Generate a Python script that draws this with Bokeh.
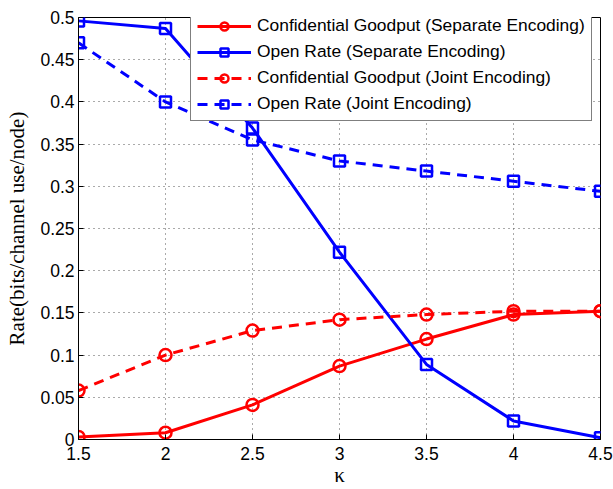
from bokeh.plotting import figure
from bokeh.models import Range1d, Legend, LegendItem, FixedTicker
from bokeh.embed import file_html
from bokeh.resources import INLINE

kappa = [1.5, 2.0, 2.5, 3.0, 3.5, 4.0, 4.5]
conf_sep = [0.003, 0.008, 0.041, 0.087, 0.119, 0.148, 0.152]
open_sep = [0.496, 0.487, 0.369, 0.222, 0.089, 0.022, 0.002]
conf_joint = [0.058, 0.100, 0.129, 0.142, 0.148, 0.152, 0.152]
open_joint = [0.470, 0.400, 0.355, 0.330, 0.318, 0.306, 0.294]

labels = ["Confidential Goodput (Separate Encoding)",
          "Open Rate (Separate Encoding)",
          "Confidential Goodput (Joint Encoding)",
          "Open Rate (Joint Encoding)"]

xticks = [1.5, 2, 2.5, 3, 3.5, 4, 4.5]
yticks = [0, 0.05, 0.1, 0.15, 0.2, 0.25, 0.3, 0.35, 0.4, 0.45, 0.5]
xtick_labels = ["1.5", "2", "2.5", "3", "3.5", "4", "4.5"]
ytick_labels = ["0", "0.05", "0.1", "0.15", "0.2", "0.25", "0.3", "0.35", "0.4", "0.45", "0.5"]

p = figure(width=613, height=489, output_backend="svg", toolbar_location=None,
           x_range=Range1d(1.5, 4.5), y_range=Range1d(0, 0.5),
           min_border_left=78, min_border_right=13, min_border_top=17, min_border_bottom=48)
p.background_fill_color = "white"
p.border_fill_color = "white"
p.outline_line_color = "black"
p.outline_line_width = 1

FONT = "Liberation Sans"
for ax in [p.xaxis[0], p.yaxis[0]]:
    ax.major_tick_in = 5
    ax.major_tick_out = 0
    ax.minor_tick_line_color = None
    ax.major_label_text_font = FONT
    ax.major_label_text_font_size = "17.5px"
    ax.major_label_text_color = "black"
    ax.axis_line_color = "black"
    ax.major_tick_line_color = "black"
    ax.axis_label_text_font = "Liberation Serif"
    ax.axis_label_text_font_style = "normal"
    ax.axis_label_text_font_size = "21px"
    ax.axis_label_text_color = "black"

p.xaxis.ticker = FixedTicker(ticks=xticks)
p.yaxis.ticker = FixedTicker(ticks=yticks)
p.xaxis.major_label_overrides = dict(zip(xticks, xtick_labels))
p.yaxis.major_label_overrides = dict(zip(yticks, ytick_labels))
p.xaxis.axis_label = "κ"
p.yaxis.axis_label = "Rate(bits/channel use/node)"
p.xaxis.major_label_standoff = 7
p.xaxis.axis_label_standoff = 0
p.yaxis.major_label_standoff = 4
p.yaxis.axis_label_standoff = 8

p.grid.grid_line_color = "#555555"
p.grid.grid_line_dash = "1 4"
p.grid.grid_line_width = 1
p.xgrid.ticker = FixedTicker(ticks=xticks)
p.ygrid.ticker = FixedTicker(ticks=yticks)

RED = "#ff0000"
BLUE = "#0000ff"
LW = 3
DASH = "10 7"

r1l = p.line(kappa, conf_sep, line_color=RED, line_width=LW)
r1m = p.scatter(kappa, conf_sep, marker="circle", size=12, line_color=RED, line_width=2.5, fill_color=None)
r2l = p.line(kappa, open_sep, line_color=BLUE, line_width=LW)
r2m = p.scatter(kappa, open_sep, marker="square", size=11, line_color=BLUE, line_width=2.5, fill_color=None)
r3l = p.line(kappa, conf_joint, line_color=RED, line_width=LW, line_dash=DASH)
r3m = p.scatter(kappa, conf_joint, marker="circle", size=12, line_color=RED, line_width=2.5, fill_color=None)
r4l = p.line(kappa, open_joint, line_color=BLUE, line_width=LW, line_dash=DASH)
r4m = p.scatter(kappa, open_joint, marker="square", size=11, line_color=BLUE, line_width=2.5, fill_color=None)

legend = Legend(items=[LegendItem(label=labels[0], renderers=[r1l, r1m]),
                       LegendItem(label=labels[1], renderers=[r2l, r2m]),
                       LegendItem(label=labels[2], renderers=[r3l, r3m]),
                       LegendItem(label=labels[3], renderers=[r4l, r4m])],
                location=(112, 318))
legend.label_text_font = FONT
legend.label_text_font_size = "17.4px"
legend.label_text_color = "black"
legend.label_height = 20
legend.glyph_width = 54
legend.glyph_height = 20
legend.label_standoff = 6
legend.spacing = 5
legend.padding = 6
legend.margin = 0
legend.border_line_color = "black"
legend.border_line_width = 1
legend.background_fill_color = "white"
legend.background_fill_alpha = 1
p.add_layout(legend, "center")

open("out.html", "w").write(file_html(p, INLINE))
